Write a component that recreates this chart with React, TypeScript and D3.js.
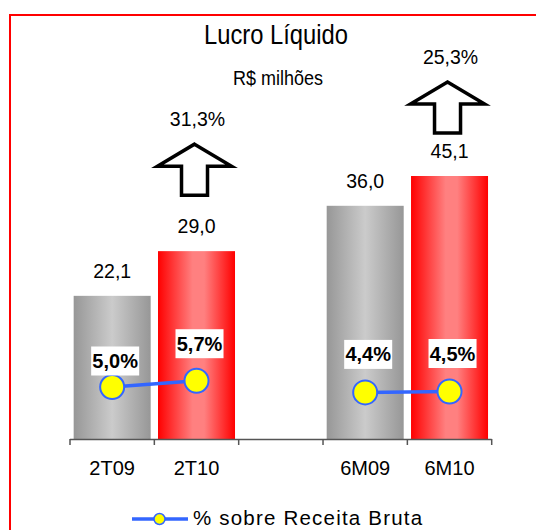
import React from "react";
import * as d3 from "d3";

const categories = ["2T09", "2T10", "", "6M09", "6M10"];
const lucro: (number | null)[] = [22.1, 29.0, null, 36.0, 45.1];
const margem: (number | null)[] = [5.0, 5.7, null, 4.4, 4.5];
const crescimento = [
  { from: 0, to: 1, value: 31.3 },
  { from: 3, to: 4, value: 25.3 },
];
const title = "Lucro Líquido";
const subtitle = "R$ milhões";
const legendLabel = "% sobre Receita Bruta";

// layout nudges (pixels)
const pctLabelDy = [-26, -37, 0, -38, -38];
const arrowGap = [56, 43];

const W = 536;
const H = 530;
const fmt = (v: number, d = 1) => v.toFixed(d).replace(".", ",");

export default function App() {
  const x = d3.scaleBand<string>().domain(categories).range([70, 491.7]).padding(0);
  const y = d3.scaleLinear().domain([0, 40.6]).range([439, 176]).clamp(true);
  const y2 = d3.scaleLinear().domain([0, 10]).range([432, 342]);
  const bw = x.bandwidth() * 0.913;
  const cx = (i: number) => (x(categories[i]) as number) + x.bandwidth() / 2;

  const segments: [number, number][][] = [];
  let cur: [number, number][] = [];
  margem.forEach((m, i) => {
    if (m == null) {
      if (cur.length) segments.push(cur);
      cur = [];
    } else cur.push([cx(i), y2(m)]);
  });
  if (cur.length) segments.push(cur);
  const line = d3.line();

  const font = "'Liberation Sans', Arial, sans-serif";
  const ticks = d3.range(categories.length + 1).map((i) => 70 + i * x.step());

  const arrow = (c: number, top: number, h: number, halfHead = 37, halfShaft = 13, headH = 22) =>
    `M${c},${top} L${c + halfHead},${top + headH} L${c + halfShaft},${top + headH} L${c + halfShaft},${top + h} L${c - halfShaft},${top + h} L${c - halfShaft},${top + headH} L${c - halfHead},${top + headH} Z`;

  return (
    <svg width={W} height={H} style={{ position: "absolute", left: 0, top: 0, background: "#fff" }}>
      <defs>
        <linearGradient id="gGray" x1="0" x2="1" y1="0" y2="0">
          <stop offset="0" stopColor="#979797" />
          <stop offset="0.5" stopColor="#cbcbcb" />
          <stop offset="1" stopColor="#979797" />
        </linearGradient>
        <linearGradient id="gRed" x1="0" x2="1" y1="0" y2="0">
          <stop offset="0" stopColor="#ff0000" />
          <stop offset="0.45" stopColor="#ff8080" />
          <stop offset="0.6" stopColor="#ff8080" />
          <stop offset="1" stopColor="#ff0000" />
        </linearGradient>
      </defs>
      <rect x={10} y={15} width={560} height={560} fill="none" stroke="#ff0000" strokeWidth={2} />

      <text x={276} y={44} textAnchor="middle" fontFamily={font} fontSize={27} textLength={144} lengthAdjust="spacingAndGlyphs" fill="#000">
        {title}
      </text>
      <text x={278} y={85} textAnchor="middle" fontFamily={font} fontSize={21} textLength={90} lengthAdjust="spacingAndGlyphs" fill="#000">
        {subtitle}
      </text>

      {lucro.map((v, i) =>
        v == null ? null : (
          <rect
            key={"b" + i}
            x={cx(i) - bw / 2}
            y={y(v)}
            width={bw}
            height={y(0) - y(v)}
            fill={i % 3 === 0 ? "url(#gGray)" : "url(#gRed)"}
          />
        )
      )}

      <line x1={70} x2={491.7} y1={439.5} y2={439.5} stroke="#555" strokeWidth={1.5} />
      {ticks.map((t, i) => (
        <line key={"t" + i} x1={t} x2={t} y1={439} y2={445} stroke="#555" strokeWidth={1.5} />
      ))}
      {categories.map((c, i) => (
        <text key={"c" + i} x={cx(i)} y={475} textAnchor="middle" fontFamily={font} fontSize={20} fill="#000">
          {c}
        </text>
      ))}

      {lucro.map((v, i) =>
        v == null ? null : (
          <text key={"l" + i} x={cx(i)} y={y(v) - 18} textAnchor="middle" fontFamily={font} fontSize={19.5} fill="#000">
            {fmt(v)}
          </text>
        )
      )}

      {segments.map((s, i) => (
        <path key={"s" + i} d={line(s) as string} fill="none" stroke="#3366ff" strokeWidth={3.5} />
      ))}
      {margem.map((m, i) =>
        m == null ? null : (
          <circle key={"p" + i} cx={cx(i)} cy={y2(m)} r={12} fill="#ffff00" stroke="#3366ff" strokeWidth={2} />
        )
      )}
      {margem.map((m, i) =>
        m == null ? null : (
          <g key={"pl" + i} transform={`translate(${cx(i) + 3},${y2(m) + pctLabelDy[i]})`}>
            <rect x={-24} y={-14.5} width={48} height={29} fill="#fff" />
            <text x={0} y={7} textAnchor="middle" fontFamily={font} fontWeight="bold" fontSize={20} fill="#000">
              {fmt(m) + "%"}
            </text>
          </g>
        )
      )}

      {crescimento.map((g, k) => {
        const c = cx(g.to) - 2;
        const v = lucro[g.to] as number;
        const barTop = y(v);
        const arrowBottom = barTop - arrowGap[k];
        const arrowTop = arrowBottom - 51;
        return (
          <g key={"g" + k}>
            <path d={arrow(c, arrowTop, 51, 37, 13)} fill="#fff" stroke="#000" strokeWidth={3.5} strokeLinejoin="miter" />
            <text x={c + 3} y={arrowTop - 18} textAnchor="middle" fontFamily={font} fontSize={19.5} fill="#000">
              {fmt(g.value) + "%"}
            </text>
          </g>
        );
      })}

      <line x1={132} x2={188} y1={519} y2={519} stroke="#3366ff" strokeWidth={3.5} />
      <circle cx={159.5} cy={519} r={5.5} fill="#ffff00" stroke="#3366ff" strokeWidth={1.5} />
      <text x={193} y={525} fontFamily={font} fontSize={20.5} letterSpacing={1.2} fill="#000">
        {legendLabel}
      </text>
    </svg>
  );
}
